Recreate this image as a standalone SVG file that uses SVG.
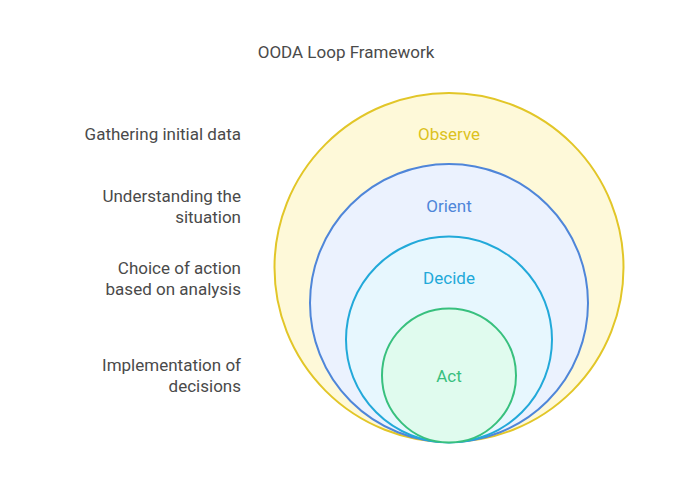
<svg xmlns="http://www.w3.org/2000/svg" width="700" height="485" viewBox="0 0 700 485">
<style>
text{font-family:Roboto,"Liberation Sans",sans-serif;font-size:17px}
.lbl{fill:#4a4a4a;text-anchor:end}
.t{text-anchor:middle}
.ring{stroke-width:2}
</style>
<rect width="700" height="485" fill="#ffffff"/>
<text class="t" x="346" y="58" fill="#4a4a4a">OODA Loop Framework</text>
<g id="observe">
<circle class="ring" cx="449" cy="267.5" r="174.5" fill="#fef9d9" stroke="#e2c628"/>
<text class="t" x="449" y="140" fill="#dcc21e">Observe</text>
</g>
<g id="orient">
<circle class="ring" cx="449" cy="303" r="139" fill="#ebf2fe" stroke="#4f86d9"/>
<text class="t" x="449" y="212" fill="#4f86d9">Orient</text>
</g>
<g id="decide">
<circle class="ring" cx="449" cy="339.5" r="103" fill="#e7f7fe" stroke="#22a9d9"/>
<text class="t" x="449" y="284" fill="#22a9d9">Decide</text>
</g>
<g id="act">
<circle class="ring" cx="449" cy="375.5" r="67" fill="#e0fbee" stroke="#38c07e"/>
<text class="t" x="449" y="382" fill="#38c07e">Act</text>
</g>
<g id="labels">
<text class="lbl" x="241" y="140">Gathering initial data</text>
<text class="lbl" x="241" y="202">Understanding the</text>
<text class="lbl" x="241" y="223">situation</text>
<text class="lbl" x="241" y="274">Choice of action</text>
<text class="lbl" x="241" y="295">based on analysis</text>
<text class="lbl" x="241" y="371">Implementation of</text>
<text class="lbl" x="241" y="392">decisions</text>
</g>
<g id="connectors"></g>
</svg>
